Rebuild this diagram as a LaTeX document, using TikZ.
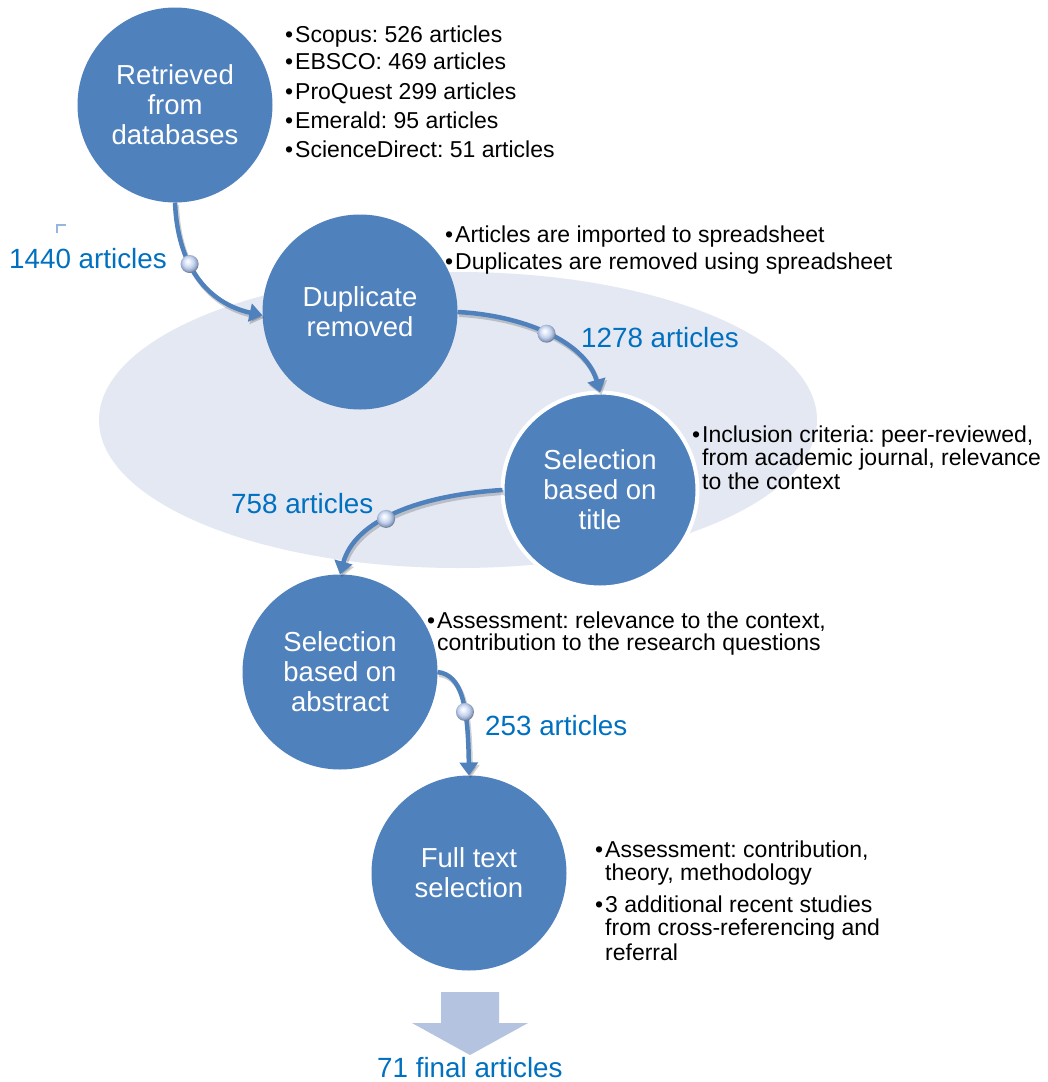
\documentclass[tikz,border=0pt]{standalone}
\usepackage{fontspec}
\setmainfont{Liberation Sans}
\usetikzlibrary{arrows.meta,shadings}
\frenchspacing

\definecolor{stepblue}{RGB}{79,129,189}
\definecolor{labelblue}{RGB}{0,112,192}
\definecolor{haze}{RGB}{228,232,242}
\definecolor{arrowfill}{RGB}{180,196,224}
\definecolor{tickblue}{RGB}{150,182,222}

% glossy bead: white highlight, pale blue body, darker rim
\pgfdeclareradialshading{bead}{\pgfpoint{-6bp}{8bp}}{%
  rgb(0bp)=(1,1,1);
  rgb(6bp)=(0.93,0.95,0.99);
  rgb(16bp)=(0.76,0.82,0.93);
  rgb(24bp)=(0.55,0.62,0.75);
  rgb(25bp)=(0.45,0.50,0.60);
  rgb(50bp)=(0.45,0.50,0.60)}

\newcommand\bodyfont{\fontsize{23}{27}\selectfont}
\newcommand\stepfont{\fontsize{27.5}{30}\selectfont}
\newcommand\countfont{\fontsize{27.8}{32}\selectfont}
\newcommand\bul{\llap{•\kern2pt}}

\tikzset{
  stage/.style={circle, fill=stepblue, minimum size=195pt, inner sep=0pt,
    outer sep=0pt, text=white, align=center, font=\stepfont},
  flow/.style={draw=stepblue, line width=4.5pt,
    -{Triangle[length=13pt,width=18pt]},
    preaction={draw=black, opacity=.18, line width=5pt,
      transform canvas={shift={(1.5pt,-2.5pt)}}}},
  bead/.style={circle, minimum size=18pt, inner sep=0pt, shading=bead},
  note/.style={anchor=base west, inner sep=0pt, font=\bodyfont, text=black},
  count/.style={anchor=base west, inner sep=0pt, font=\countfont, text=labelblue},
}

\begin{document}
\begin{tikzpicture}[x=1pt,y=-1pt]
  \fill[white] (0,0) rectangle (1048,1082);
  \useasboundingbox (0,0) rectangle (1048,1082);

  % background halo behind the duplicate/title stages
  \fill[haze] (458,420) ellipse [x radius=359, y radius=148];

  % stages
  \node[stage] (c1) at (175,105) {Retrieved\\from\\databases};
  \node[stage] (c2) at (360,312) {Duplicate\\removed};
  \node[stage, draw=white, line width=4pt] (c3) at (600,490) {Selection\\based on\\title};
  \node[stage] (c4) at (340,672) {Selection\\based on\\abstract};
  \node[stage] (c5) at (469,873) {Full text\\selection};

  % connectors between stages
  \draw[flow] (c1.south) .. controls (178,275) and (215,305) .. coordinate[pos=.35] (p1) (c2.182);
  \draw[flow] (c2.east) .. controls (520,315) and (585,340) .. coordinate[pos=.5] (p2) (c3.north);
  \draw[flow] (c3.west) .. controls (420,495) and (355,520) .. coordinate[pos=.56] (p3) (c4.north);
  \draw[flow] (c4.east) .. controls (462,675) and (468,705) .. coordinate[pos=.62] (p4) (c5.north);
  \node[bead] (b1) at (p1) {};
  \node[bead] (b2) at (p2) {};
  \node[bead] (b3) at (p3) {};
  \node[bead] (b4) at (p4) {};

  % article counts
  \draw[tickblue, line width=2pt] (57,233) -- (57,225) -- (66,225);
  \node[count] (n1) at (9,268) {1440 articles};
  \node[count] (n2) at (581,347) {1278 articles};
  \node[count] (n3) at (231,513) {758 articles};
  \node[count] (n4) at (485,735) {253 articles};
  \node[count] (n6) at (377,1077) {71 final articles};

  % notes beside each stage
  \node[note] (a1) at (295,42)  {\bul Scopus: 526 articles};
  \node[note] (a2) at (295,69)  {\bul EBSCO: 469 articles};
  \node[note] (a3) at (295,99)  {\bul ProQuest 299 articles};
  \node[note] (a4) at (295,128) {\bul Emerald: 95 articles};
  \node[note] (a5) at (295,157) {\bul ScienceDirect: 51 articles};

  \node[note] (d1) at (455,242) {\bul Articles are imported to spreadsheet};
  \node[note] (d2) at (455,269) {\bul Duplicates are removed using spreadsheet};

  \node[note] (t1) at (702,442) {\bul Inclusion criteria: peer-reviewed,};
  \node[note] (t2) at (702,465) {from academic journal, relevance};
  \node[note] (t3) at (702,489) {to the context};

  \node[note] (s1) at (437,628) {\bul Assessment: relevance to the context,};
  \node[note] (s2) at (437,650) {contribution to the research questions};

  \node[note] (f1) at (605,857) {\bul Assessment: contribution,};
  \node[note] (f2) at (605,880) {theory, methodology};
  \node[note] (f3) at (605,912) {\bul 3 additional recent studies};
  \node[note] (f4) at (605,935) {from cross-referencing and};
  \node[note] (f5) at (605,960) {referral};

  % final block arrow
  \fill[arrowfill] (441,992) -- (499,992) -- (499,1023) -- (528,1023)
    -- (470,1055) -- (412,1023) -- (441,1023) -- cycle;
\end{tikzpicture}
\end{document}
